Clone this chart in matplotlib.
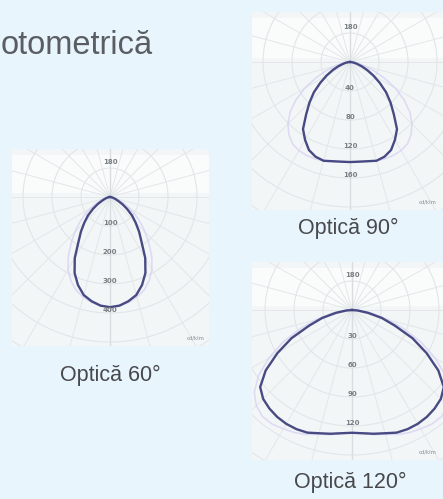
import numpy as np
import matplotlib.pyplot as plt

# unghiuri (grade fata de nadir) si intensitati (cd/klm)
angles = np.arange(0, 95, 5)

opt60 = [380, 376, 365, 350, 323, 289, 243, 190, 156, 125, 99, 72, 49, 30, 19, 11, 6, 2, 0]
opt60_c90 = [380, 376, 369, 357, 342, 319, 289, 251, 209, 171, 137, 106, 76, 53, 34, 19, 11, 4, 0]

opt90 = [138, 138, 139, 141, 139, 134, 124, 113, 94, 79, 65, 50, 37, 26, 17, 10, 6, 2, 0]
opt90_c90 = [138, 138, 139, 141, 142, 142, 141, 138, 131, 121, 108, 91, 72, 52, 35, 21, 11, 4, 0]

opt120 = [127, 128, 130, 132, 135, 136, 136, 135, 133, 130, 124, 109, 89, 69, 47, 32, 17, 6, 0]
opt120_c90 = [127, 128, 131, 133, 137, 140, 142, 144, 144, 140, 132, 118, 99, 79, 57, 38, 22, 9, 0]

captions = ["Optică 60°", "Optică 90°", "Optică 120°"]
ring_labels = [["100", "200", "300", "400"],
               ["40", "80", "120", "160"],
               ["30", "60", "90", "120"]]
top_labels = ["180", "180", "180"]
steps = [100, 40, 30]

bg = '#E9F5FD'
fig = plt.figure(figsize=(4.43, 4.99), dpi=100, facecolor=bg)
W, H = 443.0, 499.0


def curve(vals):
    a = np.radians(np.concatenate([-angles[::-1], angles[1:]]))
    r = np.concatenate([np.array(vals)[::-1], np.array(vals)[1:]])
    return r * np.sin(a), -r * np.cos(a)


def panel(left, top, size, apex, step, main, second, labels, toplab, unit_x):
    ax = fig.add_axes([left / W, 1 - (top + size) / H, size / W, size / H])
    s = 29.0 / step  # pixeli pe unitate
    ax.set_xlim((left - apex[0]) / s, (left + size - apex[0]) / s)
    ax.set_ylim((apex[1] - top - size) / s, (apex[1] - top) / s)
    ax.set_facecolor('#F3F6F7')
    for sp in ax.spines.values():
        sp.set_visible(False)
    ax.set_xticks([])
    ax.set_yticks([])

    # grila polara
    t = np.linspace(0, 2 * np.pi, 200)
    for k in range(1, 9):
        ax.plot(k * step * np.cos(t), k * step * np.sin(t), color='#E1E6E9', lw=0.8)
    for deg in range(0, 360, 15):
        d = np.radians(deg)
        ax.plot([0, 10 * step * np.sin(d)], [0, 10 * step * np.cos(d)], color='#E3E7EA', lw=0.7)
    ax.axvline(0, color='#D8DDE0', lw=1.0)
    # banda luminoasa deasupra sursei
    ax.axhspan(0.15 * step, (apex[1] - top - 6) / s, color='white', alpha=0.6, lw=0)

    x2, y2 = curve(second)
    ax.plot(x2, y2, color='#D4D0F3', lw=1.2, alpha=0.7)
    x1, y1 = curve(main)
    ax.plot(x1, y1, color='#3F417C', lw=1.7, alpha=0.95)

    ax.text(0, 1.2 * step, toplab, ha='center', va='center', fontsize=5,
            color='#7A7F84', fontweight='bold')
    for k, lab in enumerate(labels, start=1):
        ax.text(0, -k * step + 0.1 * step, lab, ha='center', va='center', fontsize=5,
                color='#7A7F84', fontweight='bold')
    ax.text(unit_x, 0.03, 'cd/klm', transform=ax.transAxes, ha='right', va='bottom',
            fontsize=3.8, color='#868B90')
    return ax


panel(12, 149, 197, (110, 197), steps[0], opt60, opt60_c90, ring_labels[0], top_labels[0], 0.98)
panel(252, 12, 198, (350, 62), steps[1], opt90, opt90_c90, ring_labels[1], top_labels[1], 0.93)
panel(252, 262, 198, (352, 310), steps[2], opt120, opt120_c90, ring_labels[2], top_labels[2], 0.93)

fig.text(1 / W, 1 - 54 / H, "otometrică", fontsize=23.5, color='#5A5E62',
         family='Liberation Sans', ha='left', va='baseline')
fig.text(110 / W, 1 - 375 / H, captions[0], fontsize=15.5, color='#47494C',
         family='Liberation Sans', ha='center', va='center')
fig.text(348 / W, 1 - 228 / H, captions[1], fontsize=15.5, color='#47494C',
         family='Liberation Sans', ha='center', va='center')
fig.text(350 / W, 1 - 482 / H, captions[2], fontsize=15.5, color='#47494C',
         family='Liberation Sans', ha='center', va='center')

plt.savefig('out.png', dpi=100, facecolor=bg)
